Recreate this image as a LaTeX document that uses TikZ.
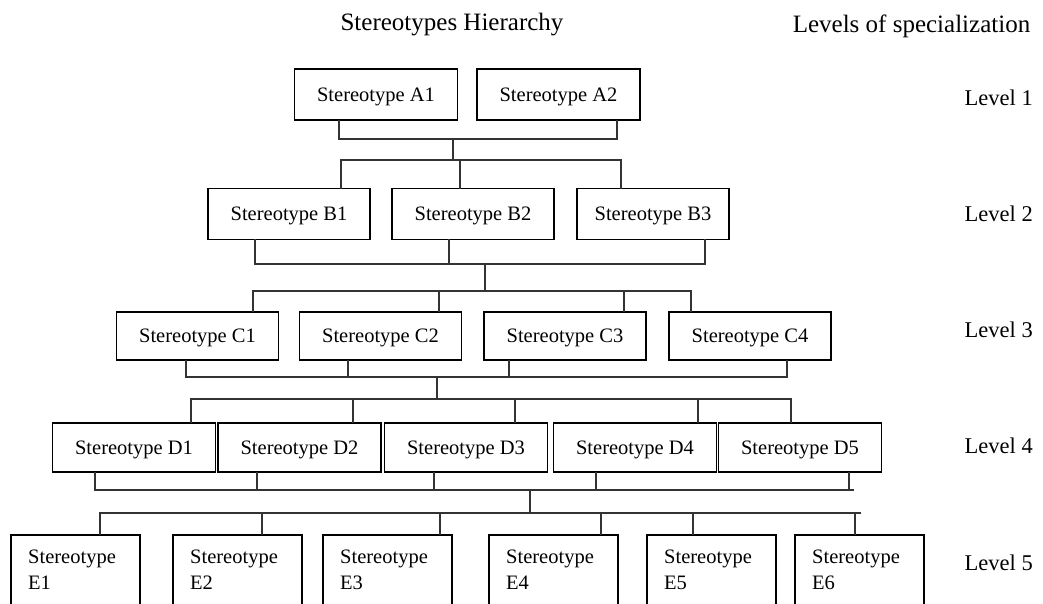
\documentclass[tikz,border=0pt]{standalone}
\usepackage{fontspec}
\setmainfont{Liberation Serif}
\begin{document}
\begin{tikzpicture}[x=1pt,y=-1pt,
  box/.style={draw=black, line width=1.6pt, minimum width=163pt, minimum height=50pt,
    inner sep=0pt, text depth=0pt, font=\fontsize{20.5}{24}\selectfont},
  ebox/.style={draw=black, line width=1.6pt, minimum width=129pt, minimum height=110pt,
    inner sep=0pt, anchor=north west},
  etext/.style={anchor=north west, align=left, inner sep=0pt, font=\fontsize{20.5}{26}\selectfont},
  link/.style={draw=black!80, line width=2pt, line cap=rect},
  lbl/.style={anchor=base east, inner sep=0pt, font=\fontsize{22.5}{26}\selectfont},
  head/.style={anchor=base, inner sep=0pt, font=\fontsize{25}{30}\selectfont}]
\useasboundingbox (0,0) rectangle (1043,603);
\clip (0,0) rectangle (1043,603);
\fill[white] (0,0) rectangle (1043,603);

% headings
\node[head] (title) at (452,30) {Stereotypes Hierarchy};
\node[head] (levels) at (911.5,32) {Levels of specialization};

% level labels
\node[lbl] (L1) at (1033,105) {Level 1};
\node[lbl] (L2) at (1033,221.25) {Level 2};
\node[lbl] (L3) at (1033,337.5) {Level 3};
\node[lbl] (L4) at (1033,453.75) {Level 4};
\node[lbl] (L5) at (1033,570) {Level 5};

% level 1
\node[box, minimum height=51pt] (A1) at (376,94.5) {Stereotype A1};
\node[box, minimum height=51pt] (A2) at (558.5,94.5) {Stereotype A2};

% level 2
\node[box, minimum width=162pt, minimum height=51pt] (B1) at (289,214) {Stereotype B1};
\node[box, minimum width=162pt, minimum height=51pt] (B2) at (473,214) {Stereotype B2};
\node[box, minimum width=152pt, minimum height=51pt] (B3) at (653,214) {Stereotype B3};

% level 3
\node[box, minimum width=162pt, minimum height=48pt] (C1) at (197.5,336) {Stereotype C1};
\node[box, minimum width=162pt, minimum height=48pt] (C2) at (380.5,336) {Stereotype C2};
\node[box, minimum width=162pt, minimum height=48pt] (C3) at (565,336) {Stereotype C3};
\node[box, minimum width=162pt, minimum height=48pt] (C4) at (750,336) {Stereotype C4};

% level 4
\node[box, minimum height=49pt] (D1) at (134,447.5) {Stereotype D1};
\node[box, minimum height=49pt] (D2) at (299.5,447.5) {Stereotype D2};
\node[box, minimum height=49pt] (D3) at (466,447.5) {Stereotype D3};
\node[box, minimum height=49pt] (D4) at (635,447.5) {Stereotype D4};
\node[box, minimum height=49pt] (D5) at (800,447.5) {Stereotype D5};

% level 5 (boxes run past the lower edge)
\foreach \n/\x in {E1/10, E2/172, E3/322, E4/488, E5/646, E6/794} {
  \node[ebox] (\n) at (\x,534) {};
  \node[etext] (\n t) at ([shift={(18,16)}]\n.north west) {Stereotype\\\n};
}

% bus rows
\coordinate (busA1) at (0,139);
\coordinate (busB0) at (0,160);
\coordinate (busB1) at (0,264);
\coordinate (busC0) at (0,291);
\coordinate (busC1) at (0,377);
\coordinate (busD0) at (0,399);
\coordinate (busD1) at (0,490);
\coordinate (busE0) at (0,513);

% level 1 -> level 2
\foreach \n/\x in {A1/339, A2/617}
  \draw[link] (\n.south -| \x,0) -- (busA1 -| \x,0);
\draw[link] (busA1 -| 339,0) -- (busA1 -| 617,0);
\draw[link] (busA1 -| 453,0) -- (busB0 -| 453,0);
\draw[link] (busB0 -| 341,0) -- (busB0 -| 621,0);
\foreach \n/\x in {B1/341, B2/460, B3/621}
  \draw[link] (busB0 -| \x,0) -- (\n.north -| \x,0);

% level 2 -> level 3
\foreach \n/\x in {B1/255, B2/449, B3/705}
  \draw[link] (\n.south -| \x,0) -- (busB1 -| \x,0);
\draw[link] (busB1 -| 255,0) -- (busB1 -| 705,0);
\draw[link] (busB1 -| 485,0) -- (busC0 -| 485,0);
\draw[link] (busC0 -| 253,0) -- (busC0 -| 691,0);
\foreach \n/\x in {C1/253, C2/439, C3/624, C4/691}
  \draw[link] (busC0 -| \x,0) -- (\n.north -| \x,0);

% level 3 -> level 4
\foreach \n/\x in {C1/186, C2/348, C3/509, C4/787}
  \draw[link] (\n.south -| \x,0) -- (busC1 -| \x,0);
\draw[link] (busC1 -| 186,0) -- (busC1 -| 787,0);
\draw[link] (busC1 -| 437,0) -- (busD0 -| 437,0);
\draw[link] (busD0 -| 191,0) -- (busD0 -| 791,0);
\foreach \n/\x in {D1/191, D2/353, D3/515, D4/698, D5/791}
  \draw[link] (busD0 -| \x,0) -- (\n.north -| \x,0);

% level 4 -> level 5
\foreach \n/\x in {D1/95, D2/257, D3/434, D4/596, D5/849}
  \draw[link] (\n.south -| \x,0) -- (busD1 -| \x,0);
\draw[link] (busD1 -| 95,0) -- (busD1 -| 853,0);
\draw[link] (busD1 -| 530,0) -- (busE0 -| 530,0);
\draw[link] (busE0 -| 100,0) -- (busE0 -| 860,0);
\foreach \n/\x in {E1/100, E2/262, E3/440, E4/601, E5/693, E6/855}
  \draw[link] (busE0 -| \x,0) -- (\n.north -| \x,0);
\end{tikzpicture}
\end{document}
